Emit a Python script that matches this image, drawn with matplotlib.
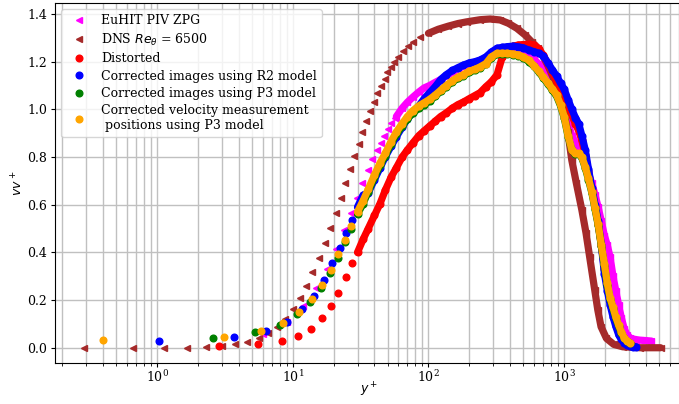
import numpy as np
import matplotlib
matplotlib.use("Agg")
import matplotlib.pyplot as plt

plt.rcParams['font.family'] = 'serif'
plt.rcParams['font.size'] = 9

nan = np.nan

# near-wall points (separate markers)
piv_yp_in = [6.07, 9.0, 11.95, 14.9, 17.9, 20.8, 23.8, 26.8, 29.7, 32.6, 35.6, 38.5,
             41.5, 44.4, 47.4, 50.3, 53.3, 56.2]
piv_vv_in = [0.057, 0.11, 0.174, 0.249, 0.332, 0.413, 0.494, 0.566, 0.63, 0.69, 0.745, 0.79,
             0.83, 0.858, 0.89, 0.918, 0.942, 0.962]

dns_yp_in = [0.29, 0.66, 1.13, 1.66, 2.29, 3.0, 3.78, 4.63, 5.6, 6.6, 7.6, 8.8, 10.0, 11.4,
             12.6, 13.9, 15.7, 17.4, 18.9, 20.9, 22.7, 24.2, 26.4, 28.2, 30.6, 32.6, 34.6,
             37.1, 40.0, 42.1, 44.8, 47.6, 49.8, 52.8, 55.8, 59.8, 65.2, 71.0, 77.1, 86.7]
dns_vv_in = [0, 0, 0, 0, 0.001, 0.008, 0.015, 0.024, 0.04, 0.06, 0.088, 0.12, 0.162, 0.21,
             0.259, 0.318, 0.376, 0.438, 0.502, 0.566, 0.627, 0.69, 0.748, 0.804, 0.854, 0.905,
             0.952, 0.994, 1.032, 1.067, 1.10, 1.128, 1.155, 1.179, 1.2, 1.221, 1.246, 1.267,
             1.284, 1.302]

dist_yp_in = [2.86, 5.5, 8.3, 11.0, 13.6, 16.4, 19.0, 21.7, 24.5, 27.2]
dist_vv_in = [0.007, 0.014, 0.027, 0.048, 0.08, 0.124, 0.174, 0.228, 0.298, 0.354]

r2_yp_in = [1.03, 3.7, 6.3, 9.0, 11.7, 14.3, 16.9, 19.6, 22.2, 24.8, 27.5]
r2_vv_in = [0.028, 0.044, 0.07, 0.108, 0.163, 0.218, 0.285, 0.354, 0.42, 0.48, 0.536]

p3_yp_in = [2.6, 5.3, 8.0, 10.7, 13.4, 16.1, 18.7, 21.4, 24.1, 26.8]
p3_vv_in = [0.039, 0.067, 0.094, 0.143, 0.192, 0.25, 0.312, 0.378, 0.445, 0.5]

pos_yp_in = [0.4, 3.1, 5.8, 8.5, 11.2, 13.9, 16.5, 19.1, 21.7, 24.3, 27.0]
pos_vv_in = [0.031, 0.045, 0.072, 0.103, 0.152, 0.203, 0.263, 0.326, 0.392, 0.452, 0.51]

# outer region (points overlap into a band)
yp_out = [30, 33, 36, 40, 44, 48, 53, 58, 64, 70,
          77, 85, 93, 102, 112, 123, 135, 150, 165, 180,
          200, 220, 240, 265, 290, 320, 350, 380, 420, 460,
          500, 550, 600, 650, 700, 760, 820, 880, 940, 1000,
          1070, 1140, 1210, 1280, 1350, 1430, 1510, 1600, 1690, 1780,
          1880, 1980, 2080, 2180, 2290, 2400, 2520, 2640, 2770, 2900,
          3050, 3200, 3400, 3600, 3800, 4000, 4200, 4400]

piv_vv_out = [nan, nan, nan, nan, nan, nan, nan, 0.97, 1.005, 1.03,
              1.052, 1.073, 1.09, 1.10, 1.113, 1.125, 1.14, 1.155, 1.17, 1.18,
              1.19, 1.198, 1.205, 1.215, 1.23, 1.24, 1.245, 1.245, 1.243, 1.24,
              1.235, 1.225, 1.21, 1.19, 1.17, 1.14, 1.11, 1.08, 1.04, 0.99,
              0.94, 0.89, 0.86, 0.84, 0.81, 0.77, 0.73, 0.69, 0.64, 0.59,
              0.53, 0.47, 0.43, 0.38, 0.30, 0.24, 0.18, 0.125, 0.08, 0.055,
              0.042, 0.037, 0.034, 0.032, 0.031, 0.03, 0.029, 0.028]

dist_vv_out = [0.40, 0.455, 0.50, 0.555, 0.605, 0.66, 0.715, 0.755, 0.80, 0.83,
               0.86, 0.89, 0.91, 0.93, 0.95, 0.97, 0.985, 1.005, 1.02, 1.03,
               1.045, 1.058, 1.07, 1.095, 1.115, 1.145, 1.22, 1.256, 1.265, 1.27,
               1.272, 1.273, 1.27, 1.255, 1.228, 1.19, 1.155, 1.116, 1.09, 1.055,
               1.015, 0.975, 0.94, 0.91, 0.87, 0.81, 0.74, 0.66, 0.59, 0.52,
               0.43, 0.33, 0.26, 0.20, 0.15, 0.11, 0.07, 0.045, 0.028, 0.018,
               0.012, 0.008, nan, nan, nan, nan, nan, nan]

r2_vv_out = [0.59, 0.64, 0.65, 0.705, 0.755, 0.80, 0.845, 0.885, 0.925, 0.96,
             0.99, 1.015, 1.045, 1.07, 1.095, 1.125, 1.145, 1.163, 1.175, 1.185,
             1.195, 1.20, 1.207, 1.22, 1.24, 1.256, 1.26, 1.263, 1.265, 1.262,
             1.258, 1.248, 1.242, 1.235, 1.225, 1.195, 1.165, 1.14, 1.11, 1.085,
             1.04, 1.00, 0.965, 0.94, 0.89, 0.83, 0.75, 0.67, 0.60, 0.53,
             0.43, 0.31, 0.24, 0.18, 0.13, 0.09, 0.055, 0.035, 0.02, 0.012,
             0.008, 0.005, 0.004, nan, nan, nan, nan, nan]

p3_vv_out = [0.56, 0.605, 0.655, 0.715, 0.765, 0.805, 0.855, 0.895, 0.93, 0.96,
             0.985, 1.005, 1.02, 1.035, 1.055, 1.075, 1.095, 1.115, 1.13, 1.14,
             1.155, 1.165, 1.175, 1.19, 1.215, 1.232, 1.233, 1.233, 1.23, 1.225,
             1.217, 1.2, 1.18, 1.157, 1.133, 1.106, 1.08, 1.055, 1.015, 0.965,
             0.885, 0.828, 0.812, 0.812, 0.797, 0.755, 0.705, 0.65, 0.58, 0.515,
             0.425, 0.345, 0.265, 0.205, 0.165, 0.125, 0.09, 0.062, 0.04, 0.027,
             0.018, nan, nan, nan, nan, nan, nan, nan]

pos_vv_out = [0.57, 0.617, 0.665, 0.725, 0.775, 0.815, 0.865, 0.905, 0.94, 0.97,
              0.995, 1.015, 1.028, 1.042, 1.06, 1.08, 1.10, 1.12, 1.135, 1.145,
              1.16, 1.168, 1.178, 1.192, 1.22, 1.235, 1.235, 1.235, 1.232, 1.228,
              1.22, 1.205, 1.183, 1.16, 1.137, 1.11, 1.085, 1.06, 1.02, 0.97,
              0.89, 0.83, 0.815, 0.815, 0.80, 0.759, 0.71, 0.655, 0.585, 0.52,
              0.43, 0.35, 0.27, 0.21, 0.17, 0.13, 0.095, 0.066, 0.042, 0.029,
              0.02, nan, nan, nan, nan, nan, nan, nan]

dns_yp_out = [100, 118, 140, 165, 191, 240, 285, 337, 388, 448, 515,
              575, 642, 701, 766, 834, 910, 993, 1065, 1138, 1230, 1350, 1450, 1540, 1680,
              1770, 1870, 2050, 2320, 2700, 3640, 5130]
dns_vv_out = [1.319, 1.336, 1.349, 1.36, 1.367, 1.376,
              1.379, 1.375, 1.361, 1.34, 1.312, 1.284, 1.256, 1.221, 1.179, 1.13, 1.06,
              0.99, 0.905, 0.787, 0.69, 0.578, 0.48, 0.382, 0.242, 0.158, 0.088, 0.039,
              0.014, 0.004, 0, 0]

fig = plt.figure(figsize=(6.79, 4.04), dpi=100)
ax = fig.add_axes([0.081, 0.1015, 0.925, 0.891])

ms = 4.8

def series(x_in, y_in, x_out, y_out, color, marker, label):
    ax.plot(x_in, y_in, ls='none', marker=marker, ms=ms, color=color, label=label)
    ax.plot(x_out, y_out, ls='-', lw=5.2, marker=marker, ms=ms, color=color,
            solid_joinstyle='round', solid_capstyle='round')

series(piv_yp_in, piv_vv_in, yp_out, piv_vv_out, 'magenta', '<', 'EuHIT PIV ZPG')
series(dns_yp_in, dns_vv_in, dns_yp_out, dns_vv_out, 'brown', '<', r'DNS $Re_\theta$ = 6500')
series(dist_yp_in, dist_vv_in, yp_out, dist_vv_out, 'red', 'o', 'Distorted')
series(r2_yp_in, r2_vv_in, yp_out, r2_vv_out, 'blue', 'o', 'Corrected images using R2 model')
series(p3_yp_in, p3_vv_in, yp_out, p3_vv_out, 'green', 'o', 'Corrected images using P3 model')
series(pos_yp_in, pos_vv_in, yp_out, pos_vv_out, 'orange', 'o',
       'Corrected velocity measurement\n positions using P3 model')

ax.set_xscale('log')
ax.set_xlim(0.177, 7520)
ax.set_ylim(-0.064, 1.446)
ax.set_yticks([0.0, 0.2, 0.4, 0.6, 0.8, 1.0, 1.2, 1.4])
ax.tick_params(axis='x', which='major', length=3, pad=1.5)
ax.tick_params(axis='x', which='minor', length=2)
ax.tick_params(axis='y', length=3, pad=2.5)
ax.grid(True, which='both', color='#c0c0c0', lw=1)
ax.set_axisbelow(True)
ax.spines['right'].set_visible(False)
ax.set_xlabel('$y^+$', labelpad=-3)
ax.set_ylabel('$vv^+$', labelpad=1)
ax.legend(loc='upper left', fontsize=9, labelspacing=0.35)

fig.savefig('out.png', dpi=100)
